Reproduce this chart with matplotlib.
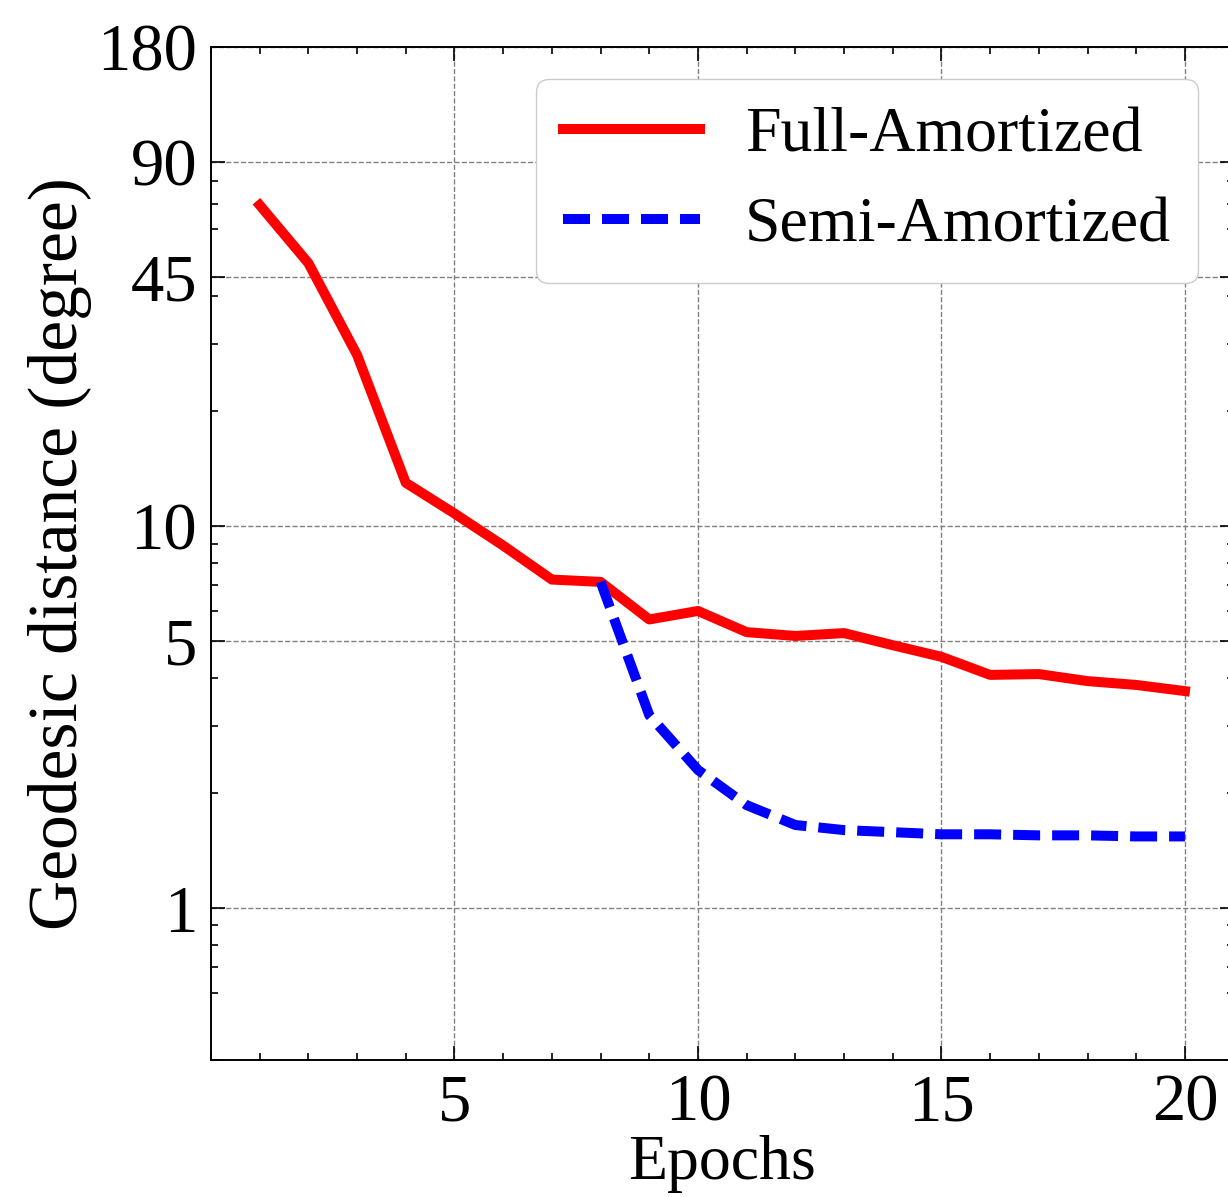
import matplotlib

matplotlib.use("Agg")
import matplotlib.pyplot as plt
from matplotlib.ticker import FixedLocator, FixedFormatter, MultipleLocator, LogLocator, NullFormatter


epochs = list(range(1, 21))
full_amortized = [
    69.4, 48.9, 28.1, 13.0, 10.8, 8.9, 7.25, 7.15, 5.7, 6.0,
    5.28, 5.16, 5.25, 4.88, 4.55, 4.08, 4.10, 3.93, 3.84, 3.70,
]
semi_epochs = list(range(8, 21))
semi_amortized = [
    7.15, 3.20, 2.30, 1.86, 1.65, 1.60, 1.58, 1.56, 1.56, 1.55, 1.55, 1.54, 1.54,
]
x_ticks = [5, 10, 15, 20]
y_ticks = [1, 5, 10, 45, 90, 180]
y_tick_labels = ["1", "5", "10", "45", "90", "180"]


def main():
    plt.rcParams["font.family"] = ["Liberation Serif", "DejaVu Serif"]

    fig = plt.figure(figsize=(12.28, 11.97), dpi=100)
    ax = fig.add_axes([0.1718, 0.1145, 0.8328, 0.8462])

    ax.plot(epochs, full_amortized, color="red", linewidth=7.2,
            label="Full-Amortized")
    ax.plot(semi_epochs, semi_amortized, color="blue", linewidth=7.2,
            linestyle=(0, (2.7, 1.2)), label="Semi-Amortized")

    ax.set_yscale("log")
    ax.set_ylim(0.4, 180)
    ax.set_xlim(0, 21)

    ax.yaxis.set_major_locator(FixedLocator(y_ticks))
    ax.yaxis.set_major_formatter(FixedFormatter(y_tick_labels))
    ax.yaxis.set_minor_locator(LogLocator(base=10, subs=(2, 3, 4, 6, 7, 8, 9)))
    ax.yaxis.set_minor_formatter(NullFormatter())
    ax.xaxis.set_major_locator(FixedLocator(x_ticks))
    ax.xaxis.set_minor_locator(MultipleLocator(1))

    ax.tick_params(which="both", direction="in", top=True, right=True,
                   labelsize=48, width=1.2)
    ax.tick_params(which="major", length=10, pad=10)
    ax.tick_params(which="minor", length=5)
    for spine in ax.spines.values():
        spine.set_linewidth(1.4)

    ax.grid(True, which="major", color="0.5", linestyle="--", linewidth=1.0)

    ax.set_xlabel("Epochs", fontsize=46, labelpad=0)
    ax.set_ylabel("Geodesic distance (degree)", fontsize=50, labelpad=4)

    ax.legend(loc="upper right", fontsize=46, frameon=True, fancybox=True,
              edgecolor="0.8", framealpha=1.0, handlelength=2.15,
              handletextpad=0.7, borderpad=0.42, labelspacing=0.5,
              borderaxespad=0, bbox_to_anchor=(0.965, 0.968))

    fig.savefig("out.png", dpi=100)
    plt.close(fig)


if __name__ == "__main__":
    main()
